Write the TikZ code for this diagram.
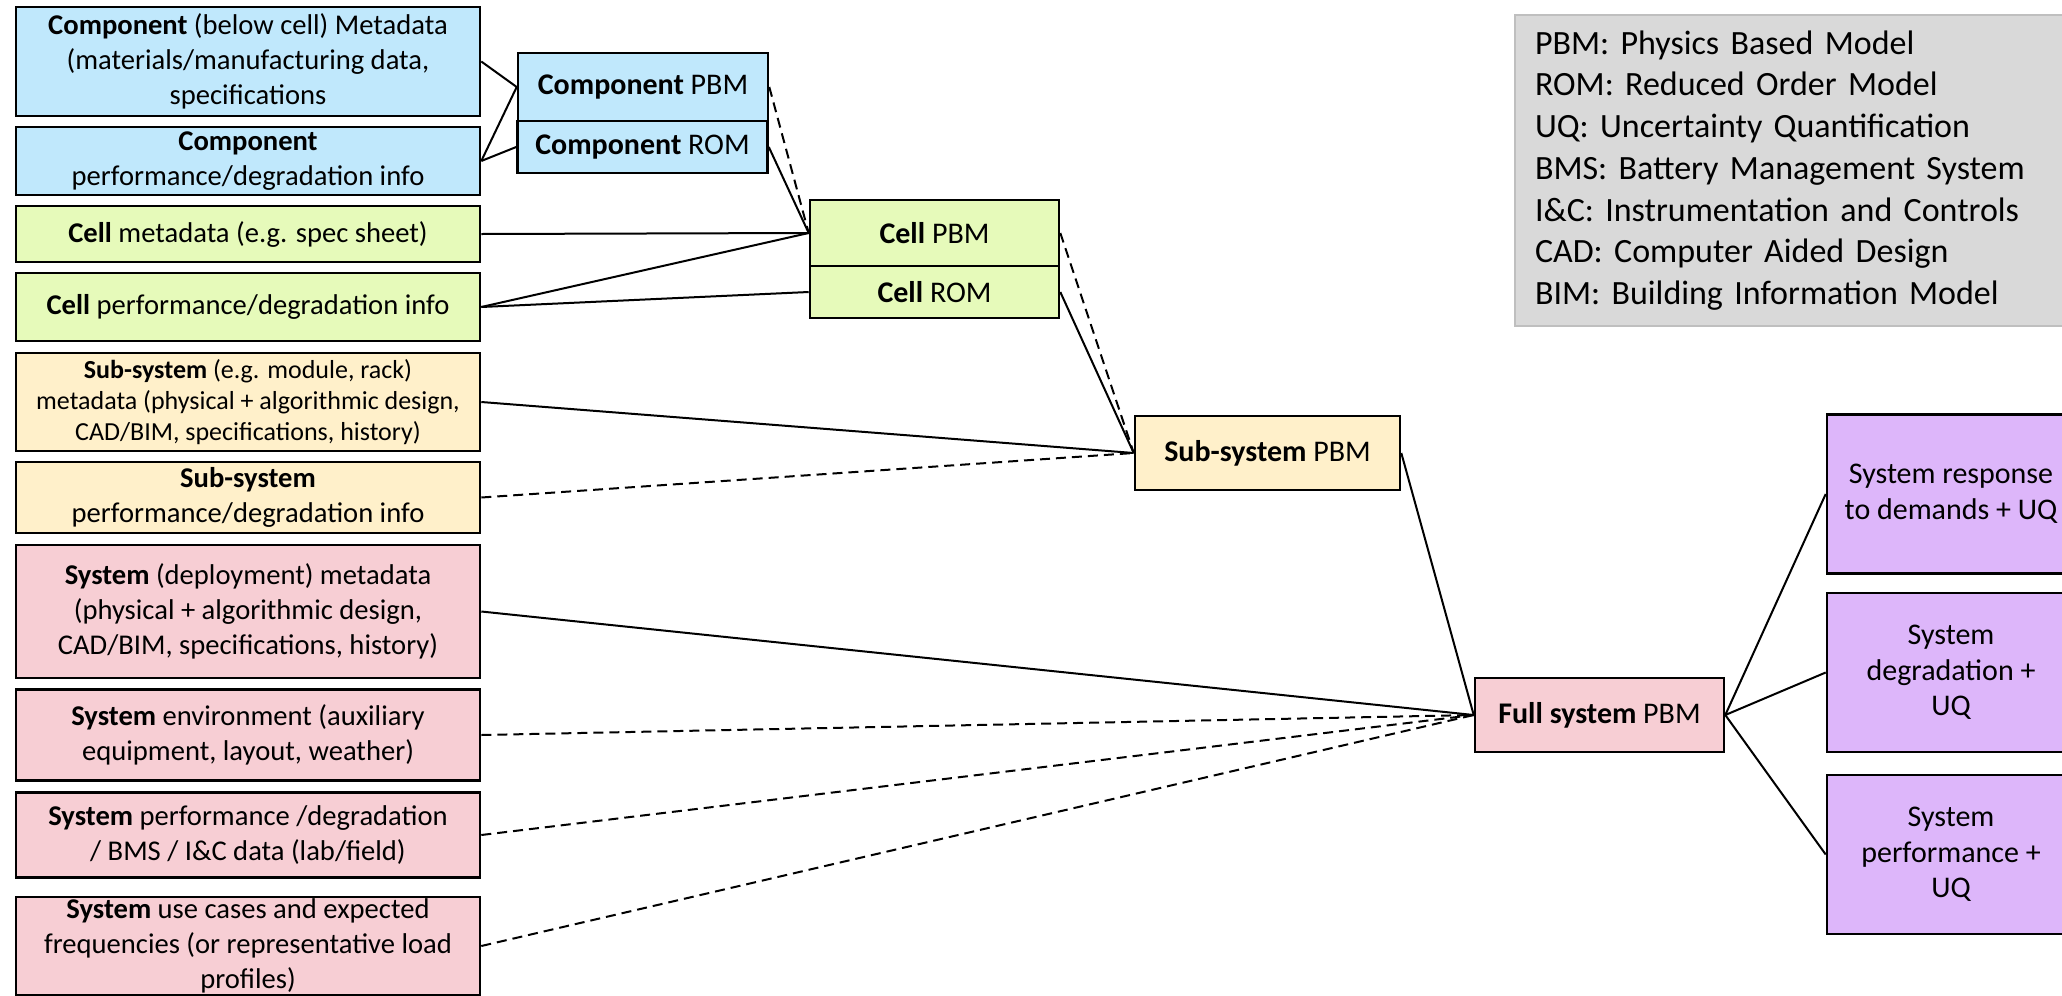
\documentclass[tikz,border=0pt]{standalone}
\usepackage{fontspec}
\setmainfont{Carlito}
\definecolor{compblue}{RGB}{192,232,252}
\definecolor{cellgreen}{RGB}{230,250,186}
\definecolor{subyellow}{RGB}{255,240,202}
\definecolor{syspink}{RGB}{247,206,212}
\definecolor{outpurple}{RGB}{221,182,250}
\definecolor{keygray}{RGB}{217,217,217}

\tikzset{%
  source/.style={
    rectangle,
    draw,
    line width=1.3pt,
    minimum width=232pt,
    inner sep=0pt,
    align=center,
    font=\fontsize{14.3}{17.6}\selectfont
  },
  model/.style={
    rectangle,
    draw,
    line width=1.3pt,
    minimum width=124.5pt,
    inner sep=0pt,
    align=center,
    font=\fontsize{15}{18}\selectfont
  },
  result/.style={
    rectangle,
    draw,
    fill=outpurple,
    line width=1.3pt,
    minimum width=124pt,
    minimum height=79.5pt,
    inner sep=0pt,
    align=center,
    font=\fontsize{15}{17.8}\selectfont
  },
  link/.style={line width=1pt},
  link weak/.style={line width=1pt, dash pattern=on 5pt off 3pt},
}

\begin{document}
\begin{tikzpicture}[x=0.5pt,y=-0.5pt]
\useasboundingbox (0,0) rectangle (2062,996);

\node[source, fill=compblue, minimum height=54.5pt] (cmeta) at (248,61.5)
  {\textbf{Component} (below cell) Metadata\\(materials/manufacturing data,\\specifications};
\node[source, fill=compblue, minimum height=34pt] (cperf) at (248,161)
  {\textbf{Component}\\performance/degradation info};
\node[source, fill=cellgreen, minimum height=28pt] (cellmeta) at (248,234)
  {\textbf{Cell} metadata (e.g. spec sheet)};
\node[source, fill=cellgreen, minimum height=34pt] (cellperf) at (248,307)
  {\textbf{Cell} performance/degradation info};
\node[source, fill=subyellow, minimum height=49pt, font=\fontsize{13}{15.6}\selectfont] (submeta) at (248,402)
  {\textbf{Sub-system} (e.g. module, rack)\\metadata (physical + algorithmic design,\\CAD/BIM, specifications, history)};
\node[source, fill=subyellow, minimum height=35.5pt] (subperf) at (248,497.5)
  {\textbf{Sub-system}\\performance/degradation info};
\node[source, fill=syspink, minimum height=66.5pt] (sysmeta) at (248,611.5)
  {\textbf{System} (deployment) metadata\\(physical + algorithmic design,\\CAD/BIM, specifications, history)};
\node[source, fill=syspink, minimum height=45.5pt] (sysenv) at (248,735)
  {\textbf{System} environment (auxiliary\\equipment, layout, weather)};
\node[source, fill=syspink, minimum height=42.5pt] (sysperf) at (248,835)
  {\textbf{System} performance /degradation\\/ BMS / I\&C data (lab/field)};
\node[source, fill=syspink, minimum height=49pt] (sysuse) at (248,946)
  {\textbf{System} use cases and expected\\frequencies (or representative load\\profiles)};

\node[model, fill=compblue, minimum width=125pt, minimum height=34pt] (cpbm) at (643,87) {\textbf{Component} PBM};
\node[model, fill=compblue, minimum width=125pt, minimum height=26pt] (crom) at (642.5,147) {\textbf{Component} ROM};
\node[model, fill=cellgreen, minimum height=33pt] (cellpbm) at (934.5,233) {\textbf{Cell} PBM};
\node[model, fill=cellgreen, minimum height=26pt] (cellrom) at (934.5,292) {\textbf{Cell} ROM};
\node[model, fill=subyellow, minimum width=132.5pt, minimum height=37pt] (subpbm) at (1267.5,453) {\textbf{Sub-system} PBM};
\node[model, fill=syspink, minimum height=37pt] (fullpbm) at (1599.5,715) {\textbf{Full system} PBM};

\node[result] (resp) at (1951,494) {System response\\to demands + UQ};
\node[result] (degr) at (1951,672.5) {System\\degradation +\\UQ};
\node[result] (perf) at (1951,854.5) {System\\performance +\\UQ};

\node[rectangle, draw=black!25, fill=keygray, line width=0.8pt, minimum width=282.5pt, minimum height=155.5pt,
  text width=262.5pt, inner xsep=10pt, align=left, font=\fontsize{17}{20.85}\selectfont] (key) at (1797.5,170.5)
  {PBM: Physics Based Model\\ROM: Reduced Order Model\\UQ: Uncertainty Quantification\\BMS: Battery Management System\\I\&C: Instrumentation and Controls\\CAD: Computer Aided Design\\BIM: Building Information Model};

\draw[link] (cmeta.east) -- (cpbm.west);
\draw[link] (cperf.east) -- (cpbm.west);
\draw[link] (cperf.east) -- (crom.west);
\draw[link weak] (cpbm.east) -- (cellpbm.west);
\draw[link] (crom.east) -- (cellpbm.west);
\draw[link] (cellmeta.east) -- (cellpbm.west);
\draw[link] (cellperf.east) -- (cellpbm.west);
\draw[link] (cellperf.east) -- (cellrom.west);
\draw[link weak] (cellpbm.east) -- (subpbm.west);
\draw[link] (cellrom.east) -- (subpbm.west);
\draw[link] (submeta.east) -- (subpbm.west);
\draw[link weak] (subperf.east) -- (subpbm.west);
\draw[link] (subpbm.east) -- (fullpbm.west);
\draw[link] (sysmeta.east) -- (fullpbm.west);
\draw[link weak] (sysenv.east) -- (fullpbm.west);
\draw[link weak] (sysperf.east) -- (fullpbm.west);
\draw[link weak] (sysuse.east) -- (fullpbm.west);
\draw[link] (fullpbm.east) -- (resp.west);
\draw[link] (fullpbm.east) -- (degr.west);
\draw[link] (fullpbm.east) -- (perf.west);
\end{tikzpicture}
\end{document}
